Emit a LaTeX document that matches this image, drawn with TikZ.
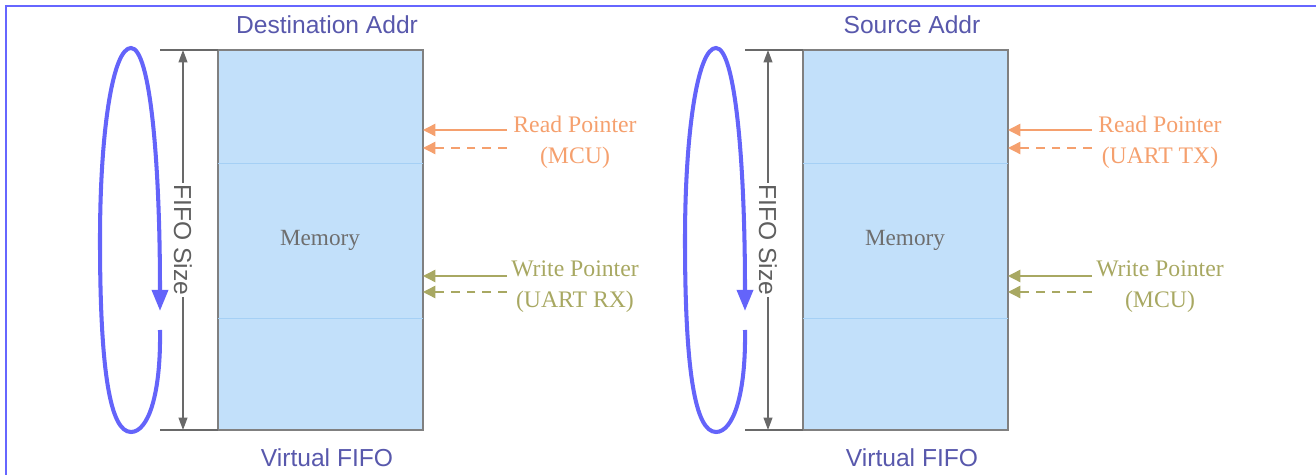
\documentclass[tikz,border=0pt]{standalone}
\usepackage{fontspec}
\setmainfont{Liberation Serif}
\setsansfont{Liberation Sans}
\usetikzlibrary{arrows.meta}
\definecolor{frameblue}{RGB}{102,102,255}
\definecolor{loopblue}{RGB}{100,100,250}
\definecolor{titleblue}{RGB}{88,88,172}
\definecolor{memfill}{RGB}{194,224,250}
\definecolor{memline}{RGB}{165,208,245}
\definecolor{dimgray}{RGB}{105,105,105}
\definecolor{memtext}{RGB}{110,110,110}
\definecolor{rdorange}{RGB}{245,160,110}
\definecolor{wrolive}{RGB}{168,168,98}
\tikzset{
  membox/.style={draw=dimgray!85,line width=1.1pt,fill=memfill,minimum width=205*0.02cm,minimum height=380*0.02cm,inner sep=0pt,outer sep=0pt},
  title/.style={font=\sffamily\fontsize{14}{16}\selectfont,text=titleblue},
  memlabel/.style={font=\fontsize{13.2}{16}\selectfont,text=memtext},
  ptrlabel/.style={font=\fontsize{13.5}{17.5}\selectfont,align=center},
  dimline/.style={draw=dimgray,line width=0.8pt,{Triangle[length=7pt,width=5pt]}-{Triangle[length=7pt,width=5pt]}},
  extline/.style={draw=dimgray,line width=0.8pt},
  sizelabel/.style={font=\sffamily\fontsize{14}{16}\selectfont,text=dimgray!90!black,fill=white,inner sep=1pt,rotate=-90},
  loopline/.style={draw=loopblue,line width=2.3pt,-{Triangle[length=12pt,width=9pt]}},
  ptrsolid/.style={line width=0.8pt,-{Triangle[length=7pt,width=7pt]}},
  ptrdash/.style={line width=0.8pt,dash pattern=on 5pt off 4pt,-{Triangle[length=7pt,width=7pt]}},
}
\begin{document}
\begin{tikzpicture}[x=0.02cm,y=-0.02cm]
\useasboundingbox (0,0) rectangle (1316,475);
% frame
\draw[frameblue,line width=1.4pt] (6,475) -- (6,6) -- (1316,6);

% ===== Left panel =====
\node[membox,anchor=north west] (Lmem) at (218,50) {};
\draw[memline,line width=0.5pt] (218,163) -- (423,163) (218,318) -- (423,318);
\node[memlabel] (Lmemt) at (320,240) {Memory};
\node[title] (Ltitle) at (327,25) {Destination Addr};
\node[title] (Lfoot) at (327,458) {Virtual FIFO};
\coordinate (Lt1) at (160,50);
\coordinate (Lb1) at (160,430);
\draw[extline] (Lt1) -- (Lmem.north west);
\draw[extline] (Lb1) -- (Lmem.south west);
\coordinate (Ldt) at (183,50);
\coordinate (Ldb) at (183,430);
\draw[dimline] (Ldt) -- (Ldb);
\node[sizelabel] (Lsize) at (183,240) {FIFO Size};
\coordinate (Lls) at (160,330);
\coordinate (Lle) at (160,311);
\draw[loopline] (Lls) .. controls (161,395) and (148,432) .. (131,432)
  .. controls (110,432) and (100,370) .. (100,240)
  .. controls (100,130) and (113,48) .. (131,48)
  .. controls (150,48) and (160,160) .. (Lle);
% pointers
\node[ptrlabel,text=rdorange] (Lrd) at (575,142) {Read Pointer\\(MCU)};
\node[ptrlabel,text=wrolive] (Lwr) at (575,287) {Write Pointer\\(UART RX)};
\coordinate (Lr1) at (507,130);
\coordinate (Lr2) at (507,148);
\coordinate (Lw1) at (507,276);
\coordinate (Lw2) at (507,292);
\draw[ptrsolid,rdorange] (Lr1) -- (Lr1 -| Lmem.east);
\draw[ptrdash,rdorange] (Lr2) -- (Lr2 -| Lmem.east);
\draw[ptrsolid,wrolive] (Lw1) -- (Lw1 -| Lmem.east);
\draw[ptrdash,wrolive] (Lw2) -- (Lw2 -| Lmem.east);

% ===== Right panel =====
\begin{scope}[xshift=585*0.02cm]
\node[membox,anchor=north west] (Rmem) at (218,50) {};
\draw[memline,line width=0.5pt] (218,163) -- (423,163) (218,318) -- (423,318);
\node[memlabel] (Rmemt) at (320,240) {Memory};
\node[title] (Rtitle) at (327,25) {Source Addr};
\node[title] (Rfoot) at (327,458) {Virtual FIFO};
\coordinate (Rt1) at (160,50);
\coordinate (Rb1) at (160,430);
\draw[extline] (Rt1) -- (Rmem.north west);
\draw[extline] (Rb1) -- (Rmem.south west);
\coordinate (Rdt) at (183,50);
\coordinate (Rdb) at (183,430);
\draw[dimline] (Rdt) -- (Rdb);
\node[sizelabel] (Rsize) at (183,240) {FIFO Size};
\coordinate (Rls) at (160,330);
\coordinate (Rle) at (160,311);
\draw[loopline] (Rls) .. controls (161,395) and (148,432) .. (131,432)
  .. controls (110,432) and (100,370) .. (100,240)
  .. controls (100,130) and (113,48) .. (131,48)
  .. controls (150,48) and (160,160) .. (Rle);
\node[ptrlabel,text=rdorange] (Rrd) at (575,142) {Read Pointer\\(UART TX)};
\node[ptrlabel,text=wrolive] (Rwr) at (575,287) {Write Pointer\\(MCU)};
\coordinate (Rr1) at (507,130);
\coordinate (Rr2) at (507,148);
\coordinate (Rw1) at (507,276);
\coordinate (Rw2) at (507,292);
\draw[ptrsolid,rdorange] (Rr1) -- (Rr1 -| Rmem.east);
\draw[ptrdash,rdorange] (Rr2) -- (Rr2 -| Rmem.east);
\draw[ptrsolid,wrolive] (Rw1) -- (Rw1 -| Rmem.east);
\draw[ptrdash,wrolive] (Rw2) -- (Rw2 -| Rmem.east);
\end{scope}
\end{tikzpicture}
\end{document}
